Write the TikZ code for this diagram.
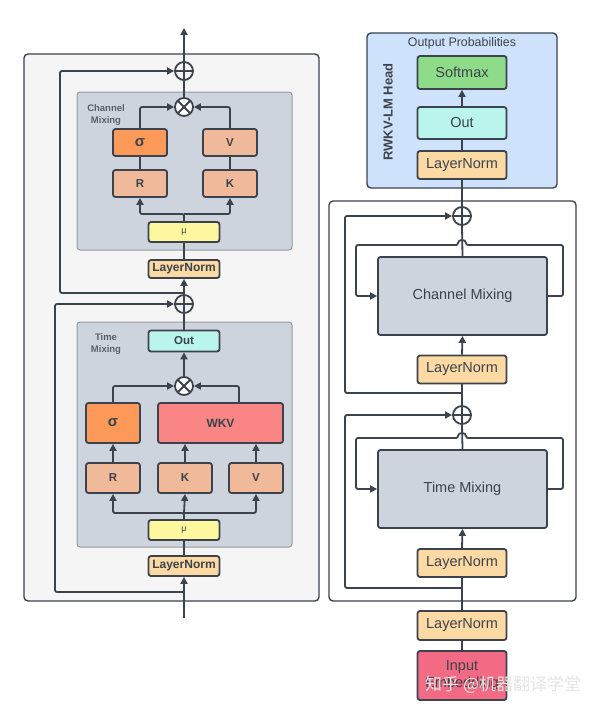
\documentclass[tikz,border=0pt]{standalone}
\usepackage{fontspec}
\setmainfont{Liberation Sans}
\newfontfamily\cjkfont{Noto Sans CJK SC}
\usetikzlibrary{arrows.meta}
\definecolor{linec}{HTML}{3D434C}
\definecolor{panelc}{HTML}{F5F5F6}
\definecolor{mixc}{HTML}{CED4DD}
\definecolor{mixb}{HTML}{959BA3}
\definecolor{normc}{HTML}{FDD9A3}
\definecolor{rkvc}{HTML}{F0B999}
\definecolor{sigc}{HTML}{FD9A5A}
\definecolor{wkvc}{HTML}{F98585}
\definecolor{muc}{HTML}{FDF89F}
\definecolor{outc}{HTML}{B9F5EC}
\definecolor{softc}{HTML}{8EDB8A}
\definecolor{headc}{HTML}{CFE2FB}
\definecolor{inc}{HTML}{F26A84}
\tikzset{
  blk/.style={draw, rounded corners=2.5pt, inner sep=0pt, font=\bfseries\fontsize{11.5}{13}\selectfont},
  rblk/.style={draw, rounded corners=2.5pt, inner sep=0pt, minimum width=89pt, font=\fontsize{14.5}{16}\selectfont},
  arr/.style={-{Triangle[length=7pt,width=7pt]}},
  oplus/.style={circle, draw, minimum size=18pt, inner sep=0pt,
    path picture={\draw (path picture bounding box.north) -- (path picture bounding box.south)
      (path picture bounding box.west) -- (path picture bounding box.east);}},
  otimes/.style={circle, draw, fill=white, minimum size=18pt, inner sep=0pt,
    path picture={\draw (path picture bounding box.north west) -- (path picture bounding box.south east)
      (path picture bounding box.north east) -- (path picture bounding box.south west);}},
  mixlabel/.style={align=center, font=\bfseries\fontsize{9.5}{11.5}\selectfont, text=linec!85}
}
\begin{document}
\begin{tikzpicture}[x=1pt,y=-1pt,line width=1.8pt,color=linec,rounded corners=2pt]
\useasboundingbox (0,0) rectangle (600,709);
\fill[white] (0,0) rectangle (600,709);

% left: one block in detail
\draw[fill=panelc,line width=1.4pt,rounded corners=4pt] (24,54) rectangle (319,601);
\draw[fill=mixc,draw=mixb,line width=1pt,rounded corners=3pt] (77,92) rectangle (292,250);
\draw[fill=mixc,draw=mixb,line width=1pt,rounded corners=3pt] (77,322) rectangle (292,547);
\node[mixlabel] (cmlabel) at (106,115) {Channel\\Mixing};
\node[mixlabel] (tmlabel) at (106,344) {Time\\Mixing};

\node[oplus] (plusC) at (184,71) {};
\node[otimes] (mulC) at (184,107) {};
\node[blk,fill=sigc,minimum width=54pt,minimum height=27pt,font=\bfseries\fontsize{15}{16}\selectfont] (sigC) at (140,142.5) {σ};
\node[blk,fill=rkvc,minimum width=54pt,minimum height=27pt] (rC) at (140,183.5) {R};
\node[blk,fill=rkvc,minimum width=54pt,minimum height=27pt] (vC) at (230,142.5) {V};
\node[blk,fill=rkvc,minimum width=54pt,minimum height=27pt] (kC) at (230,183.5) {K};
\node[blk,fill=muc,minimum width=71pt,minimum height=20pt,font=\fontsize{9}{10}\selectfont] (muC) at (184,232) {μ};
\node[blk,fill=normc,minimum width=71pt,minimum height=18pt,font=\bfseries\fontsize{12}{13}\selectfont] (lnC) at (184,269) {LayerNorm};

\node[oplus] (plusT) at (184,304) {};
\node[blk,fill=outc,minimum width=71pt,minimum height=21pt] (outT) at (184,341) {Out};
\node[otimes] (mulT) at (184,386) {};
\node[blk,fill=sigc,minimum width=54pt,minimum height=40pt,font=\bfseries\fontsize{15}{16}\selectfont] (sigT) at (113,423) {σ};
\node[blk,fill=wkvc,minimum width=125pt,minimum height=40pt,font=\bfseries\fontsize{12}{13}\selectfont] (wkvT) at (220.5,423) {WKV};
\node[blk,fill=rkvc,minimum width=54pt,minimum height=30pt] (rT) at (113,478) {R};
\node[blk,fill=rkvc,minimum width=54pt,minimum height=30pt] (kT) at (185,478) {K};
\node[blk,fill=rkvc,minimum width=54pt,minimum height=30pt] (vT) at (256,478) {V};
\node[blk,fill=muc,minimum width=71pt,minimum height=20pt,font=\fontsize{9}{10}\selectfont] (muT) at (184,530) {μ};
\node[blk,fill=normc,minimum width=71pt,minimum height=20pt,font=\bfseries\fontsize{12}{13}\selectfont] (lnT) at (184,566) {LayerNorm};

\coordinate (topC) at (184,28);
\coordinate (forkC) at (184,214);
\coordinate (skipC) at (184,293);
\coordinate (forkT) at (184,513);
\coordinate (skipT) at (184,592);
\coordinate (inT) at (184,618);

\draw[arr] (plusC.north) -- (topC);
\draw (mulC.north) -- (plusC.south);
\draw[arr] (sigC.north) |- (mulC.west);
\draw[arr] (vC.north) |- (mulC.east);
\draw (rC.north) -- (sigC.south);
\draw (kC.north) -- (vC.south);
\draw[arr] (muC.north) -- (forkC) -| (rC.south);
\draw[arr] (forkC) -| (kC.south);
\draw (lnC.north) -- (muC.south);
\draw[arr] (plusT.north) -- (lnC.south);
\draw[arr] (skipC) -- (60,293) -- (60,71) -- (plusC.west);

\draw (outT.north) -- (plusT.south);
\draw[arr] (mulT.north) -- (outT.south);
\draw[arr] (sigT.north) |- (mulT.west);
\draw[arr] (wkvT.north) ++(18.5,0) |- (mulT.east);
\draw[arr] (rT.north) -- (sigT.south);
\foreach \b in {kT,vT}
\draw[arr] (\b.north) -- (\b.north |- wkvT.south);
\draw[arr] (muT.north) -- (forkT) -| (rT.south);
\draw[arr] (forkT) -| (vT.south);
\draw[arr] (forkT) -- (kT.south);
\draw (lnT.north) -- (muT.south);
\draw[arr] (inT) -- (lnT.south);
\draw[arr] (skipT) -- (55,592) -- (55,304) -- (plusT.west);

% right: the whole model
\draw[fill=headc,line width=1.4pt,rounded corners=4pt] (367,33) rectangle (557,188);
\node[font=\fontsize{12.4}{14}\selectfont] (probs) at (462,43) {Output Probabilities};
\node[rotate=90,font=\bfseries\fontsize{13}{15}\selectfont] (headlabel) at (388,112) {RWKV-LM Head};
\node[rblk,fill=softc,minimum height=33pt] (soft) at (462,72.5) {Softmax};
\node[rblk,fill=outc,minimum height=32pt] (outH) at (462,123) {Out};
\node[rblk,fill=normc,minimum height=28pt] (lnH) at (462,165) {LayerNorm};

\draw[fill=white,line width=1.4pt,rounded corners=4pt] (329,201) rectangle (576,601);
\node[oplus] (plus1) at (462,216) {};
\node[rblk,fill=mixc,minimum width=169pt,minimum height=78pt] (cm) at (462.5,296) {Channel Mixing};
\node[rblk,fill=normc,minimum height=28pt] (ln1) at (462,369.5) {LayerNorm};
\node[oplus] (plus2) at (462,415) {};
\node[rblk,fill=mixc,minimum width=169pt,minimum height=78pt] (tm) at (462.5,489) {Time Mixing};
\node[rblk,fill=normc,minimum height=28pt] (ln2) at (462,563) {LayerNorm};
\node[rblk,fill=normc,minimum height=29pt] (ln0) at (462,625.5) {LayerNorm};
\node[rblk,fill=inc,minimum height=49pt,align=center,font=\fontsize{14.5}{16.5}\selectfont] (emb) at (462,675.5) {Input\\Embedding};

\coordinate (skip1) at (462,393);
\coordinate (skip2) at (462,588);

\draw[arr] (outH.north) -- (soft.south);
\draw (lnH.north) -- (outH.south);
\draw (plus1.north) -- (lnH.south);
\draw (cm.north) -- (plus1.south);
\draw[arr] (cm.east) -- (563,296) -- (563,245) -- (466,245) .. controls (466,239) and (458,239) .. (458,245) -- (356,245) -- (356,296) -- (cm.west);
\draw[arr] (ln1.north) -- (cm.south);
\draw (plus2.north) -- (ln1.south);
\draw[arr] (skip1) -- (345,393) -- (345,216) -- (plus1.west);
\draw (tm.north) -- (plus2.south);
\draw[arr] (tm.east) -- (563,489) -- (563,438) -- (466,438) .. controls (466,432) and (458,432) .. (458,438) -- (356,438) -- (356,489) -- (tm.west);
\draw[arr] (ln2.north) -- (tm.south);
\draw (ln0.north) -- (ln2.south);
\draw[arr] (skip2) -- (345,588) -- (345,415) -- (plus2.west);
\draw (emb.north) -- (ln0.south);

\node[text=gray!20,font=\cjkfont\fontsize{17}{19}\selectfont,anchor=west] (mark) at (421,685) {知乎 @机器翻译学堂};
\end{tikzpicture}
\end{document}
